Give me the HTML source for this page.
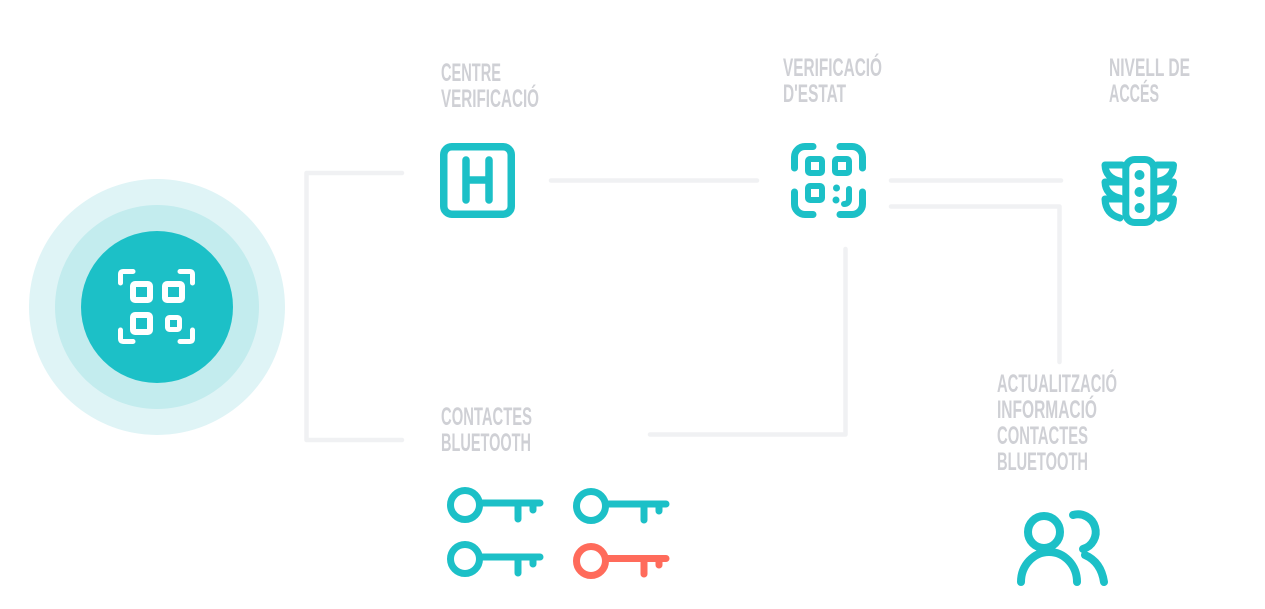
<!DOCTYPE html>
<html><head><meta charset="utf-8"><style>
html,body{margin:0;padding:0;background:#fff;}
svg{display:block;}
text{font-family:"Liberation Sans Narrow","Liberation Sans",sans-serif;font-weight:bold;font-size:25px;fill:#cfd0d5;}
</style></head><body>
<svg width="1265" height="609" viewBox="0 0 1265 609" xmlns="http://www.w3.org/2000/svg">
<!-- big circle -->
<circle cx="157" cy="307" r="128" fill="#dff4f6"/>
<circle cx="157" cy="307" r="102" fill="#c3ecee"/>
<circle cx="157" cy="307" r="76" fill="#1cc0c7"/>
<g fill="none" stroke="#fff" stroke-width="5" stroke-linecap="round" stroke-linejoin="round">
<path d="M120.5 283 V274 Q120.5 271.5 123 271.5 H133"/>
<path d="M180 271.5 H190 Q192.5 271.5 192.5 274 V283"/>
<path d="M120.5 330 V339 Q120.5 341.5 123 341.5 H133"/>
<path d="M180 341.5 H190 Q192.5 341.5 192.5 339 V330"/>
</g>
<g fill="none" stroke="#fff" stroke-width="6">
<rect x="133" y="284" width="17" height="16" rx="2"/>
<rect x="165" y="284" width="17" height="16" rx="2"/>
<rect x="133" y="315" width="17" height="17" rx="2"/>
<rect x="167.5" y="317.5" width="12" height="12" rx="2" stroke-width="5"/>
</g>
<!-- connectors -->
<g fill="none" stroke="#f0f1f3" stroke-width="4.5" stroke-linecap="round" stroke-linejoin="round">
<path d="M402 173 H306.5 V440 H402"/>
<path d="M551 180.5 H757"/>
<path d="M891 180.5 H1061"/>
<path d="M891 206.5 H1059.5 V362"/>
<path d="M845.5 249 V434.5 H650"/>
</g>
<!-- H icon -->
<g fill="none" stroke="#1cc0c7" stroke-width="7.5" stroke-linecap="round">
<rect x="443.75" y="146.75" width="67.5" height="67.5" rx="8"/>
<path d="M466 160 V200 M489 160 V200 M466 180 H489"/>
</g>
<!-- QR status icon -->
<g fill="none" stroke="#1cc0c7" stroke-width="7" stroke-linecap="round" stroke-linejoin="round">
<path d="M794.5 168 V157 A10.5 10.5 0 0 1 805 146.5 H813"/>
<path d="M840 146.5 H852 A10.5 10.5 0 0 1 862.5 157 V168"/>
<path d="M794.5 192 V204 A10.5 10.5 0 0 0 805 214.5 H813"/>
<path d="M840 214.5 H852 A10.5 10.5 0 0 0 862.5 204 V192"/>
</g>
<g fill="none" stroke="#1cc0c7" stroke-width="6" stroke-linecap="round">
<rect x="808" y="159" width="14" height="14" rx="2"/>
<rect x="835" y="159" width="14" height="14" rx="2"/>
<rect x="808" y="186" width="14" height="14" rx="2"/>
<path d="M849 189 V199 Q849 204 844 204"/>
</g>
<circle cx="836.5" cy="188" r="3.5" fill="#1cc0c7"/>
<circle cx="836" cy="200" r="3.5" fill="#1cc0c7"/>
<!-- traffic light -->
<g fill="none" stroke="#1cc0c7" stroke-width="7" stroke-linecap="round" stroke-linejoin="round">
<rect x="1125.8" y="159.5" width="28" height="63" rx="9"/>
<path d="M1122 165 H1105 Q1105.5 178 1120 181"/>
<path d="M1122 182 H1105 Q1105.5 195 1120 198"/>
<path d="M1122 199 H1105 Q1105.5 214 1120 218"/>
<path d="M1157 165 H1173.5 Q1173 178 1159 181"/>
<path d="M1157 182 H1173.5 Q1173 195 1159 198"/>
<path d="M1157 199 H1173.5 Q1173 214 1159 218"/>
</g>
<g fill="#1cc0c7">
<circle cx="1139.5" cy="175" r="5"/>
<circle cx="1139.5" cy="192" r="5"/>
<circle cx="1139.5" cy="208" r="5"/>
</g>
<!-- keys -->
<g fill="none" stroke-width="7" stroke-linecap="round">
<g stroke="#1cc0c7">
<circle cx="465" cy="505" r="14.5"/>
<path d="M482 503 H540 M518 503 V519 M533 503 V510"/>
<circle cx="591" cy="506" r="14.5"/>
<path d="M608 504 H666 M644 504 V520 M659 504 V511"/>
<circle cx="465" cy="559" r="14.5"/>
<path d="M482 557 H540 M518 557 V573 M533 557 V564"/>
</g>
<g stroke="#ff6b5b">
<circle cx="591" cy="561" r="14.5"/>
<path d="M608 558.5 H666 M644 558.5 V574 M659 558.5 V565"/>
</g>
</g>
<!-- people -->
<g fill="none" stroke="#1cc0c7" stroke-width="8" stroke-linecap="round">
<circle cx="1044" cy="532" r="16"/>
<path d="M1021 582 A28 30 0 0 1 1077 582"/>
<path d="M1073 515 A17 17 0 0 1 1083 549"/>
<path d="M1085 555 Q1101 562 1104 582"/>
</g>
<!-- labels -->
<text x="441" y="81" textLength="60" lengthAdjust="spacingAndGlyphs">CENTRE</text>
<text x="441" y="107" textLength="98" lengthAdjust="spacingAndGlyphs">VERIFICACIÓ</text>
<text x="783" y="76" textLength="99" lengthAdjust="spacingAndGlyphs">VERIFICACIÓ</text>
<text x="783" y="102" textLength="63" lengthAdjust="spacingAndGlyphs">D'ESTAT</text>
<text x="1109" y="76" textLength="81" lengthAdjust="spacingAndGlyphs">NIVELL DE</text>
<text x="1109" y="102" textLength="50" lengthAdjust="spacingAndGlyphs">ACCÉS</text>
<text x="441" y="425" textLength="91" lengthAdjust="spacingAndGlyphs">CONTACTES</text>
<text x="441" y="451" textLength="90" lengthAdjust="spacingAndGlyphs">BLUETOOTH</text>
<text x="997" y="392" textLength="120" lengthAdjust="spacingAndGlyphs">ACTUALITZACIÓ</text>
<text x="997" y="418" textLength="100" lengthAdjust="spacingAndGlyphs">INFORMACIÓ</text>
<text x="997" y="444" textLength="91" lengthAdjust="spacingAndGlyphs">CONTACTES</text>
<text x="997" y="470" textLength="91" lengthAdjust="spacingAndGlyphs">BLUETOOTH</text>
</svg>
</body></html>
